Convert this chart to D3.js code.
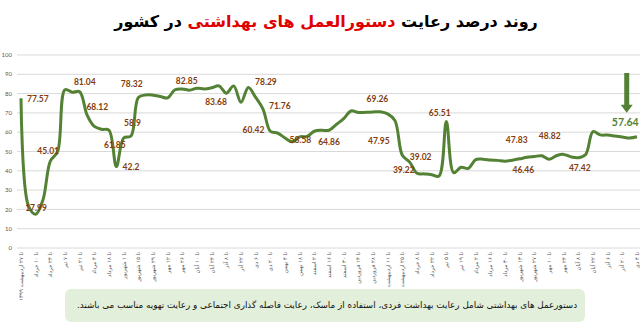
<!DOCTYPE html>
<html>
<head>
<meta charset="utf-8">
<script src="https://cdn.jsdelivr.net/npm/d3@7"></script>
<style>
  body { margin: 0; background: #fff; }
  svg { display: block; }
</style>
</head>
<body>
<div id="chart"></div>
<script>
// tick labels, one every two weeks
var tickLabels = [
    "تا ۲۷ اردیبهشت ۱۳۹۹", "تا ۱۰ خرداد", "تا ۲۴ خرداد", "تا ۷ تیر", "تا ۲۱ تیر", "تا ۴ مرداد",
    "تا ۱۸ مرداد", "تا ۱ شهریور", "تا ۱۵ شهریور", "تا ۲۹ شهریور", "تا ۱۲ مهر", "تا ۲۶ مهر",
    "تا ۱۰ آبان", "تا ۲۴ آبان", "تا ۸ آذر", "تا ۲۲ آذر", "تا ۶ دی", "تا ۲۰ دی",
    "تا ۴ بهمن", "تا ۱۸ بهمن", "تا ۲ اسفند", "تا ۱۶ اسفند", "تا ۳۰ اسفند", "تا ۱۴ فروردین",
    "تا ۲۸ فروردین", "تا ۱۱ اردیبهشت", "تا ۲۵ اردیبهشت", "تا ۸ خرداد", "تا ۲۲ خرداد", "تا ۵ تیر",
    "تا ۱۹ تیر", "تا ۲ مرداد", "تا ۱۶ مرداد", "تا ۳۰ مرداد", "تا ۱۳ شهریور", "تا ۲۷ شهریور",
    "تا ۱۰ مهر", "تا ۲۴ مهر", "تا ۸ آبان", "تا ۲۲ آبان", "تا ۶ آذر", "تا ۲۰ آذر", "تا ۴ دی"
];

// weekly compliance percentage
var values = [
    77.6, 22, 17.5, 25, 45, 50, 82, 80.7, 81, 69,
    63, 61.5, 61, 42.2, 57, 58, 78, 79.3, 79.2, 78.5,
    77.8, 82, 82.4, 81.8, 82.8, 82.4, 83, 84, 80.2, 84,
    75.5, 83.2, 78, 72, 60.5, 59.5, 57, 55, 57.6, 57.8,
    60.5, 61, 61, 64, 67, 71, 70.2, 70.3, 70.5, 70.6,
    69.5, 66, 48, 44.5, 38.7, 38.4, 38, 37.3, 65.5, 39,
    41.8, 41.3, 45.8, 46, 45.6, 45.4, 45, 45.5, 46.2, 47,
    47.4, 47.8, 46, 47.8, 48.5, 47.2, 46.8, 48.5, 60.3, 58.6,
    58.5, 58, 57.5, 57, 57.6
];

// annotations: text, week, value level where the text sits
var noteTexts = ["77.57", "17.99", "45.01", "81.04", "68.12", "61.85", "42.2", "58.9", "78.32",
    "82.85", "83.68", "78.29", "71.76", "60.42", "58.58", "64.86", "69.26", "47.95", "39.22",
    "39.02", "65.51", "47.83", "46.46", "48.82", "47.42"];
var noteWeeks = [2.3, 2.05, 3.7, 8.7, 10.4, 12.8, 15, 15.2, 15.1,
    22.6, 26.6, 33.4, 35.3, 31.7, 38.1, 42, 48.6, 48.8, 52.2,
    54.5, 57.1, 67.6, 68.5, 72.1, 76.2];
var noteLevels = [77, 20.7, 50.4, 85.9, 72.9, 53.4, 41.8, 64.9, 84.8,
    86.5, 75.5, 85.9, 73.7, 61.1, 56, 54.8, 77.2, 55.4, 40.4,
    47, 70.1, 56, 40.4, 58, 41.3];

var lastText = "57.64";
var lastWeek = 82.4;
var lastLevel = 64.9;

var yTicks = [0, 10, 20, 30, 40, 50, 60, 70, 80, 90, 100];

var title1 = "روند درصد رعایت ";
var title2 = "دستورالعمل های بهداشتی";
var title3 = " در کشور";
var footNote = "دستورعمل های بهداشتی شامل رعایت بهداشت فردی، استفاده از ماسک، رعایت فاصله گذاری اجتماعی و رعایت تهویه مناسب می باشند.";

var width = 640;
var height = 324;

var svg = d3.select("#chart")
    .append("svg")
    .attr("width", width)
    .attr("height", height);

var x = d3.scaleLinear().domain([0, values.length - 1]).range([21, 637]);
var y = d3.scaleLinear().domain([0, 100]).range([248, 55]);

// title
var title = svg.append("text")
    .attr("x", width / 2 + 6)
    .attr("y", 27)
    .attr("text-anchor", "middle")
    .attr("direction", "rtl")
    .attr("font-family", "DejaVu Sans")
    .attr("font-weight", "bold")
    .attr("font-size", 16);
title.append("tspan").attr("fill", "#000").text(title1);
title.append("tspan").attr("fill", "#e00000").text(title2);
title.append("tspan").attr("fill", "#000").text(title3);

// grid
svg.append("g")
    .selectAll("line")
    .data(yTicks)
    .join("line")
    .attr("x1", 17)
    .attr("x2", 640)
    .attr("y1", function (d) { return y(d); })
    .attr("y2", function (d) { return y(d); })
    .attr("stroke", "#d9d9d9")
    .attr("stroke-width", 1);

svg.append("g")
    .selectAll("text")
    .data(yTicks)
    .join("text")
    .attr("x", 12)
    .attr("y", function (d) { return y(d); })
    .attr("dy", "0.35em")
    .attr("text-anchor", "end")
    .attr("font-family", "Lato")
    .attr("font-size", 6)
    .attr("fill", "#595959")
    .text(function (d) { return d; });

// x labels
svg.append("g")
    .selectAll("text")
    .data(tickLabels)
    .join("text")
    .attr("transform", function (d, i) {
        return "translate(" + x(i * 2) + ",252) rotate(-90)";
    })
    .attr("dy", "0.35em")
    .attr("text-anchor", "end")
    .attr("font-family", "DejaVu Sans")
    .attr("font-size", 5.5)
    .attr("fill", "#595959")
    .text(function (d) { return d; });

// the line
var line = d3.line()
    .x(function (d, i) { return x(i); })
    .y(function (d) { return y(d); })
    .curve(d3.curveCatmullRom);

svg.append("path")
    .attr("d", line(values))
    .attr("fill", "none")
    .attr("stroke", "#548235")
    .attr("stroke-width", 3)
    .attr("stroke-linejoin", "round");

// value notes
svg.append("g")
    .selectAll("text")
    .data(noteTexts)
    .join("text")
    .attr("x", function (d, i) { return x(noteWeeks[i]); })
    .attr("y", function (d, i) { return y(noteLevels[i]); })
    .attr("dy", "0.35em")
    .attr("text-anchor", "middle")
    .attr("font-family", "Lato")
    .attr("font-weight", "bold")
    .attr("font-size", 8.5)
    .attr("fill", "#843c0c")
    .text(function (d) { return d; });

// last value with arrow
svg.append("text")
    .attr("x", x(lastWeek))
    .attr("y", y(lastLevel))
    .attr("dy", "0.35em")
    .attr("text-anchor", "middle")
    .attr("font-family", "Lato")
    .attr("font-weight", "bold")
    .attr("font-size", 10.5)
    .attr("fill", "#548235")
    .text(lastText);

var ax = x(82.6);
var aTop = y(90.7);
var aTip = y(70.1);
svg.append("path")
    .attr("d", "M" + (ax - 2.5) + "," + aTop + "V" + (aTip - 8) + "H" + (ax - 6) +
        "L" + ax + "," + aTip + "L" + (ax + 6) + "," + (aTip - 8) + "H" + (ax + 2.5) + "V" + aTop + "Z")
    .attr("fill", "#548235");

// foot note
svg.append("rect")
    .attr("x", 65)
    .attr("y", 289)
    .attr("width", 520)
    .attr("height", 33)
    .attr("rx", 6)
    .attr("fill", "#e2efda");

svg.append("text")
    .attr("x", 327)
    .attr("y", 305)
    .attr("dy", "0.35em")
    .attr("text-anchor", "middle")
    .attr("direction", "rtl")
    .attr("font-family", "DejaVu Sans")
    .attr("font-size", 8.8)
    .attr("fill", "#111")
    .text(footNote);
</script>
</body>
</html>
